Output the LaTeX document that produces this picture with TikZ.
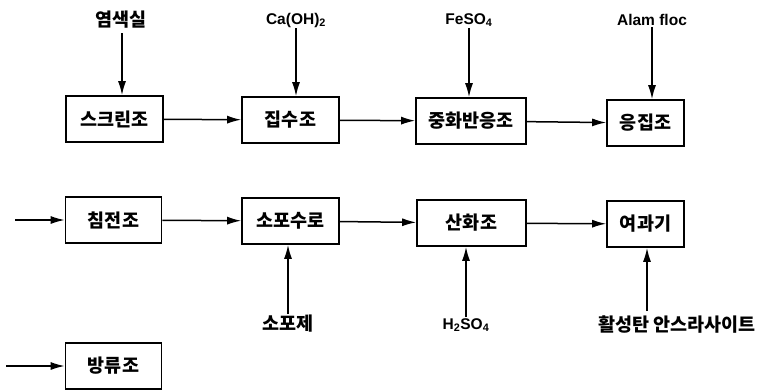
\documentclass[tikz,border=0pt]{standalone}
\usepackage{fontspec}
\setmainfont{Liberation Sans}
\newfontfamily\kor{Noto Sans CJK KR}
\usetikzlibrary{arrows.meta}
\begin{document}
\begin{tikzpicture}[x=1pt,y=-1pt,
  box/.style={draw,line width=1.6pt,minimum height=46pt,inner sep=0pt,font=\kor\bfseries\fontsize{18.5}{20}\selectfont},
  lab/.style={inner sep=1pt,font=\kor\bfseries\fontsize{18.5}{20}\selectfont},
  elab/.style={inner sep=1pt,font=\bfseries\fontsize{15.5}{19}\selectfont},
  arr/.style={line width=1.5pt,-{Latex[length=14pt,width=8pt]}}]
\useasboundingbox (0,0) rectangle (759,391);
% row 1
\node[box,minimum width=97pt] (A) at (114.5,119) {스크린조};
\node[box,minimum width=97pt] (B) at (290.5,120) {집수조};
\node[box,minimum width=110pt] (C) at (471,121) {중화반응조};
\node[box,minimum width=77pt] (D) at (645.5,123) {응집조};
% row 2
\node[box,minimum width=96pt] (E) at (113.5,220) {침전조};
\node[box,minimum width=97pt] (F) at (290.5,221) {소포수로};
\node[box,minimum width=109pt] (G) at (471.5,223) {산화조};
\node[box,minimum width=77pt] (H) at (645.5,224) {여과기};
% row 3
\node[box,minimum width=96pt] (I) at (113.5,366) {방류조};
% top labels
\node[lab] (L1) at (121,20) {염색실};
\node[elab] (L2) at (296,20) {Ca(OH)\textsubscript{2}};
\node[elab] (L3) at (469,20) {FeSO\textsubscript{4}};
\node[elab] (L4) at (652,20) {Alam floc};
% bottom labels
\node[lab] (M1) at (288,324) {소포제};
\node[elab] (M2) at (466,325) {H\textsubscript{2}SO\textsubscript{4}};
\node[lab] (M3) at (677,325) {활성탄 안스라사이트};
% free ends
\coordinate (P1) at (15,220);
\coordinate (P2) at (6,366);
\coordinate (Q1) at (122,33);
\coordinate (Q2) at (647,311);
% connectors
\draw[arr] (A) -- (B);
\draw[arr] (B) -- (C);
\draw[arr] (C) -- (D);
\draw[arr] (E) -- (F);
\draw[arr] (F) -- (G);
\draw[arr] (G) -- (H);
\draw[arr] (P1) -- (E);
\draw[arr] (P2) -- (I);
\draw[arr] (Q1) -- (Q1 |- A.north);
\draw[arr] (L2.south) -- (L2.south |- B.north);
\draw[arr] (L3.south) -- (L3.south |- C.north);
\draw[arr] (L4.south) -- (L4.south |- D.north);
\draw[arr] (M1.north) -- (M1.north |- F.south);
\draw[arr] (M2.north) -- (M2.north |- G.south);
\draw[arr] (Q2) -- (Q2 |- H.south);
\end{tikzpicture}
\end{document}
